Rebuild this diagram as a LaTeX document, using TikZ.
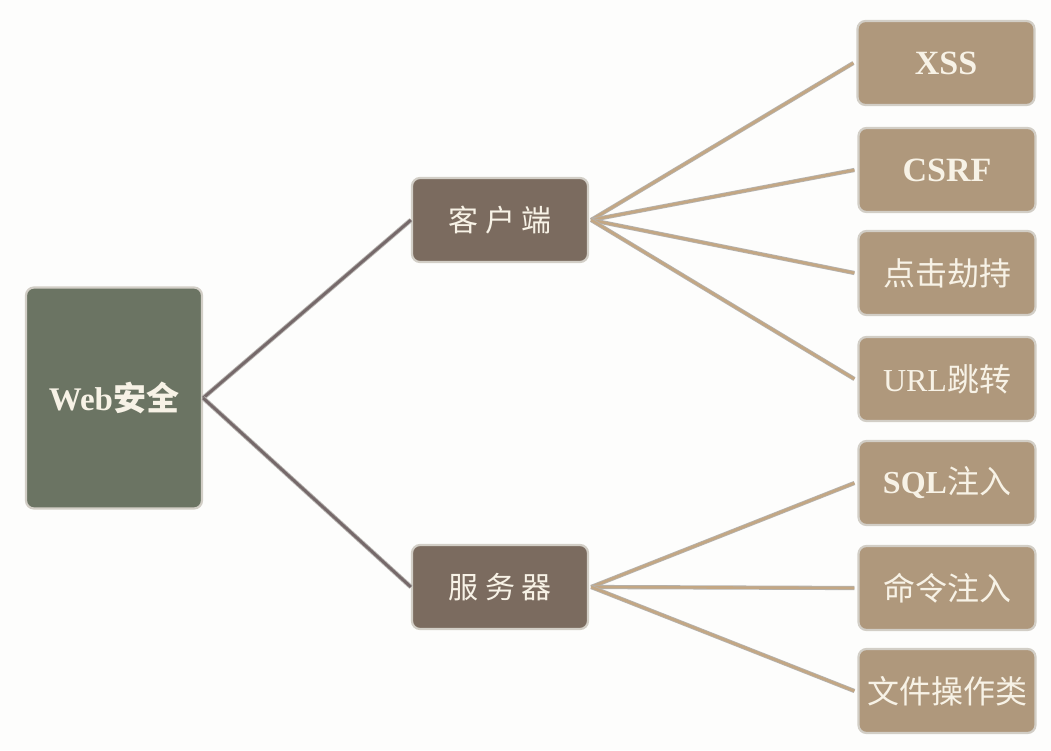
\documentclass[tikz,border=0pt]{standalone}
\usepackage{fontspec}
\setmainfont{Liberation Serif}
\newfontfamily\cjk{Noto Sans CJK SC}
\definecolor{bgc}{HTML}{FDFDFC}
\definecolor{rootfill}{HTML}{6B7463}
\definecolor{midfill}{HTML}{7B6B5F}
\definecolor{leaffill}{HTML}{AF987C}
\definecolor{boxedge}{HTML}{D2CEC6}
\definecolor{txt}{HTML}{F7F2E6}
\definecolor{linkA}{HTML}{76696A}
\definecolor{linkB}{HTML}{C3A784}
\definecolor{linkedge}{HTML}{B5B2AE}
\tikzset{
  box/.style={draw=boxedge, line width=2.2pt, rounded corners=8pt,
    text=txt, align=center, inner sep=0pt},
  rootbox/.style={box, fill=rootfill, minimum width=176pt, minimum height=221pt,
    font=\fontsize{33}{36}\selectfont\bfseries},
  midbox/.style={box, fill=midfill, minimum width=176pt, minimum height=84pt,
    font=\fontsize{30}{34}\selectfont},
  leafbox/.style={box, fill=leaffill, minimum width=177pt, minimum height=84pt,
    font=\fontsize{32}{34}\selectfont},
  linkone/.style={draw=linkedge, line width=0.9pt, double=linkA, double distance=2.8pt},
  linktwo/.style={draw=linkedge, line width=0.8pt, double=linkB, double distance=2.6pt},
}
\begin{document}
\begin{tikzpicture}[x=1pt, y=-1pt]
  \fill[bgc] (0,0) rectangle (1051,750);
  \useasboundingbox (0,0) rectangle (1051,750);

  % root, branches, leaves
  \node[rootbox] (web) at (114,398) {Web{\cjk 安全}};
  \node[midbox] (client) at (500,220) {\cjk 客 户 端};
  \node[midbox] (server) at (500,587) {\cjk 服 务 器};

  \node[leafbox] (xss)  at (946,63)  {\textbf{\fontsize{34}{34}\selectfont XSS}};
  \node[leafbox] (csrf) at (947,170) {\textbf{\fontsize{34}{34}\selectfont CSRF}};
  \node[leafbox] (click) at (947,273) {\cjk 点击劫持};
  \node[leafbox] (url)  at (947,379) {URL{\cjk 跳转}};
  \node[leafbox] (sql)  at (947,483) {\textbf{SQL}{\cjk 注入}};
  \node[leafbox] (cmd)  at (947,588) {\cjk 命令注入};
  \node[leafbox] (file) at (947,691) {\cjk 文件操作类};

  % connectors
  \draw[linkone] (web.east) -- (client.west);
  \draw[linkone] (web.east) -- (server.west);

  \foreach \t in {xss,csrf,click,url}
    \draw[linktwo] ([xshift=2pt]client.east) -- ([xshift=-3pt]\t.west);
  \foreach \t in {sql,cmd,file}
    \draw[linktwo] ([xshift=2pt]server.east) -- ([xshift=-3pt]\t.west);
\end{tikzpicture}
\end{document}
